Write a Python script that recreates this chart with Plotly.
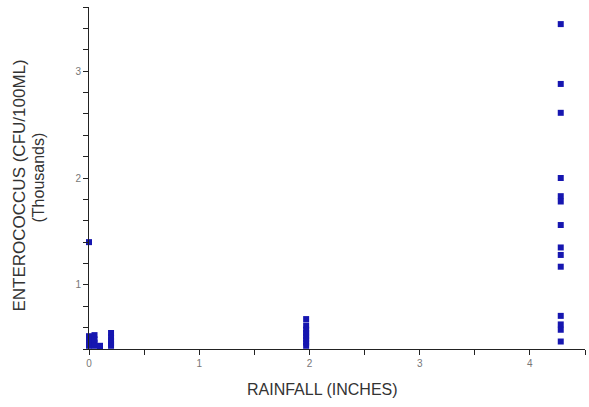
import plotly.graph_objects as go

rain_x = [0, 0, 0, 0, 0,
          0.03, 0.03,
          0.05, 0.05, 0.05, 0.05,
          0.1, 0.1,
          0.2, 0.2, 0.2, 0.2, 0.2,
          1.97, 1.97, 1.97, 1.97, 1.97, 1.97, 1.97, 1.97,
          4.28, 4.28, 4.28, 4.28, 4.28, 4.28, 4.28, 4.28, 4.28, 4.28, 4.28, 4.28, 4.28, 4.28]
entero_k = [1.40, 0.52, 0.48, 0.45, 0.43,
            0.50, 0.46,
            0.53, 0.49, 0.46, 0.43,
            0.43, 0.42,
            0.55, 0.51, 0.48, 0.45, 0.43,
            0.68, 0.62, 0.58, 0.55, 0.52, 0.49, 0.46, 0.43,
            3.44, 2.88, 2.61, 2.00, 1.83, 1.78, 1.56, 1.35, 1.28, 1.17, 0.71, 0.63, 0.58, 0.47]

x_tickvals = [0, 0.5, 1, 1.5, 2, 2.5, 3, 3.5, 4, 4.5]
x_ticktext = ["0", "", "1", "", "2", "", "3", "", "4", ""]
y_tickvals = [round(0.4 + 0.2 * i, 1) for i in range(17)]
y_ticktext = [str(int(v)) if abs(v - round(v)) < 1e-9 and v >= 1 else "" for v in y_tickvals]

x_title = "RAINFALL (INCHES)"
y_title_lines = ["ENTEROCOCCUS (CFU/100ML)", "(Thousands)"]

fig = go.Figure()
fig.add_trace(go.Scatter(
    x=rain_x, y=entero_k, mode="markers", cliponaxis=False,
    marker=dict(symbol="square", size=6, color="#1616b0", line=dict(width=0)),
    showlegend=False,
))

fig.update_layout(
    width=589, height=407,
    margin=dict(l=89, r=4, t=7, b=58, autoexpand=False),
    paper_bgcolor="white", plot_bgcolor="white",
    font=dict(family="Liberation Sans, Arial, sans-serif", color="#333333"),
)
fig.update_xaxes(
    range=[0, 4.5], tickvals=x_tickvals, ticktext=x_ticktext, automargin=False,
    showgrid=False, zeroline=False, showline=True, linecolor="#222222", linewidth=1,
    ticks="outside", ticklen=5, tickcolor="#222222",
    tickfont=dict(size=10, color="#777777"),
)
fig.update_yaxes(
    range=[0.4, 3.6], tickvals=y_tickvals, ticktext=y_ticktext, automargin=False,
    showgrid=False, zeroline=False, showline=True, linecolor="#222222", linewidth=1,
    ticks="outside", ticklen=5, tickcolor="#222222",
    tickfont=dict(size=10, color="#777777"),
)

fig.add_annotation(text=x_title, xref="paper", yref="paper", x=(322 - 89) / 496, y=-0.117,
                   xanchor="center", yanchor="middle", showarrow=False,
                   font=dict(size=16, color="#333333"))
fig.add_annotation(text=y_title_lines[0], xref="paper", yref="paper", x=(20 - 89) / 496, y=0.478,
                   xanchor="center", yanchor="middle", showarrow=False, textangle=-90,
                   font=dict(size=17, color="#333333"))
fig.add_annotation(text=y_title_lines[1], xref="paper", yref="paper", x=(37.5 - 89) / 496, y=0.5,
                   xanchor="center", yanchor="middle", showarrow=False, textangle=-90,
                   font=dict(size=16, color="#333333"))

fig.write_html("out.html", config={"displayModeBar": False},
               post_script="document.body.style.margin='0';document.body.style.overflow='hidden';")
